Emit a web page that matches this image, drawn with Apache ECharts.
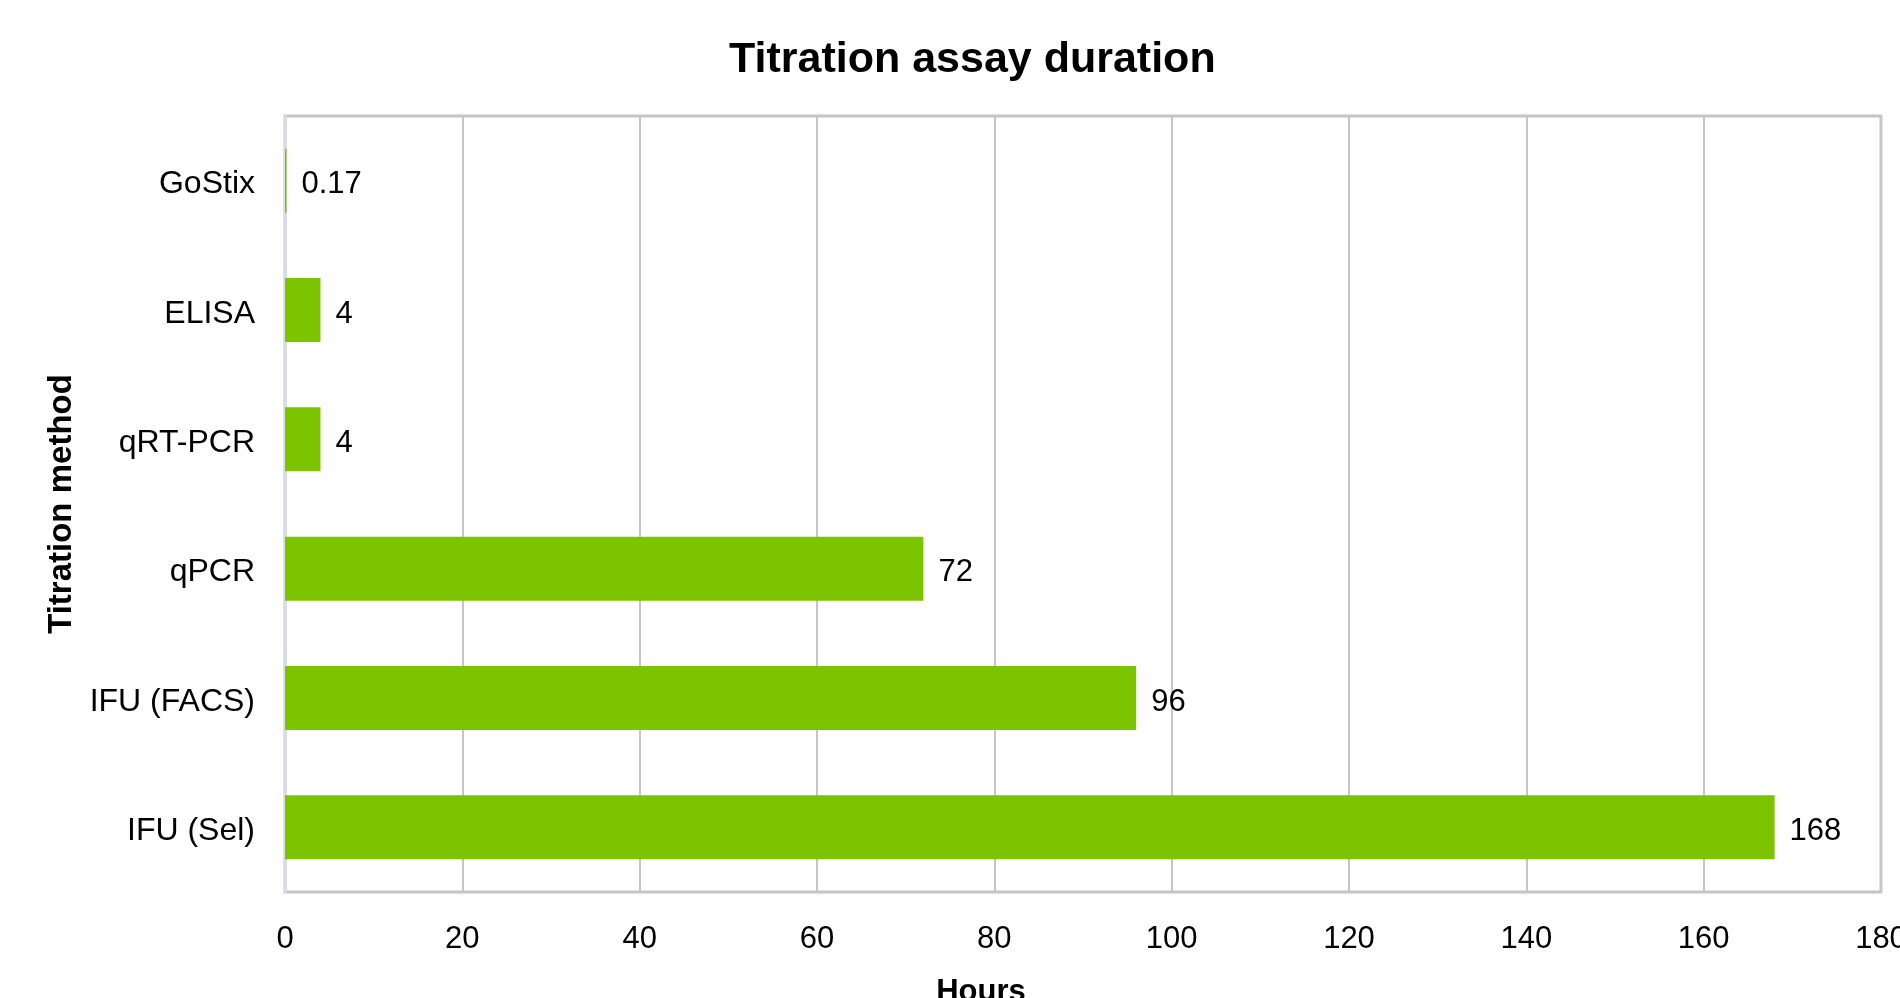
<!DOCTYPE html>
<html>
<head>
<meta charset="utf-8">
<title>Titration assay duration</title>
<script src="https://cdn.jsdelivr.net/npm/echarts@6/dist/echarts.min.js"></script>
<style>
  html, body { margin: 0; padding: 0; background: #ffffff; }
  #chart { width: 1900px; height: 998px; }
</style>
</head>
<body>
<div id="chart"></div>
<script>
// Assay methods, listed bottom-to-top as the category axis draws them
const methods = ['IFU (Sel)', 'IFU (FACS)', 'qPCR', 'qRT-PCR', 'ELISA', 'GoStix'];
// Duration of each assay in hours
const hours = [168, 96, 72, 4, 4, 0.17];
// Hour ticks on the value axis
const hourTicks = [0, 20, 40, 60, 80, 100, 120, 140, 160, 180];

const FONT = '"Liberation Sans", Arial, sans-serif';
const chart = echarts.init(document.getElementById('chart'), null, { renderer: 'canvas' });

chart.setOption({
  animation: false,
  backgroundColor: '#ffffff',
  title: {
    text: 'Titration assay duration',
    left: 724,
    top: 34,
    textStyle: { fontFamily: FONT, fontSize: 43, fontWeight: 'bold', color: '#000000' }
  },
  grid: {
    left: 285, right: 19, top: 116, bottom: 106,
    outerBoundsMode: 'none',
    containLabel: false,
    show: true, borderColor: '#c4c4c4', borderWidth: 3, backgroundColor: 'transparent'
  },
  xAxis: {
    type: 'value',
    min: hourTicks[0],
    max: hourTicks[hourTicks.length - 1],
    interval: hourTicks[1] - hourTicks[0],
    // axis title sits under the page centre, left of the plot centre
    name: '{h|Hours}',
    nameLocation: 'middle',
    nameGap: 85,
    nameTextStyle: {
      rich: { h: { padding: [0, 204, 0, 0], fontFamily: FONT, fontSize: 31, fontWeight: 'bold', color: '#000000' } }
    },
    axisLine: { show: false },
    axisTick: { show: false },
    axisLabel: { margin: 32, fontFamily: FONT, fontSize: 31, color: '#000000' },
    splitLine: { show: true, lineStyle: { color: '#c6c6c6', width: 2 } }
  },
  yAxis: {
    type: 'category',
    data: methods,
    name: 'Titration method',
    nameLocation: 'middle',
    nameRotate: 90,
    nameGap: 203,
    nameTextStyle: { fontFamily: FONT, fontSize: 33, fontWeight: 'bold', color: '#000000' },
    axisLine: { show: true, lineStyle: { color: '#d9dde3', width: 3 } },
    axisTick: { show: false },
    axisLabel: {
      margin: 30,
      formatter: v => '{c|' + v + '}',
      rich: { c: { padding: [8, 0, 0, 0], fontFamily: FONT, fontSize: 32, color: '#000000' } }
    },
    splitLine: { show: false }
  },
  series: [{
    type: 'bar',
    data: hours,
    barWidth: 64,
    itemStyle: { color: '#7dc400' },
    label: {
      show: true,
      position: 'right',
      distance: 15,
      offset: [0, 4],
      fontFamily: FONT,
      fontSize: 31,
      color: '#000000',
      formatter: p => String(p.value)
    }
  }]
});
</script>
</body>
</html>
